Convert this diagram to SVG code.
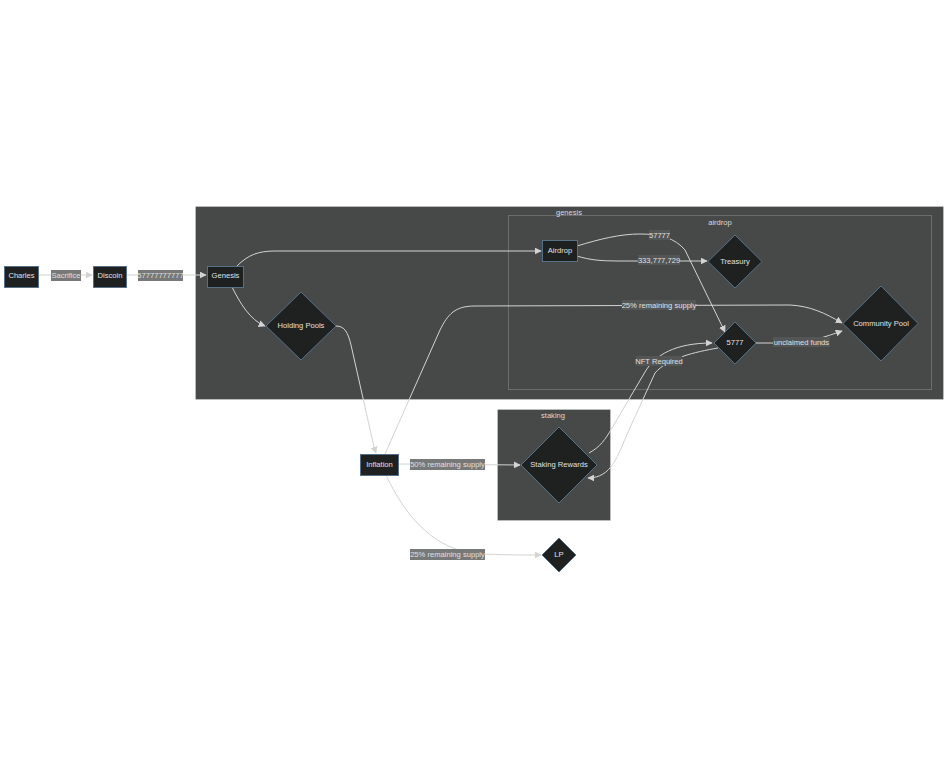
<svg xmlns="http://www.w3.org/2000/svg" width="948" height="779" viewBox="0 0 948 779">
<defs>
<style>
text{font-family:"Liberation Sans",Arial,sans-serif;font-size:7.6px;fill:#e0e0e0;text-anchor:middle;dominant-baseline:central}
.cl{fill:#474949;stroke:rgba(255,255,255,0.25);stroke-width:1}
.cli{fill:none;stroke:rgba(255,255,255,0.2);stroke-width:1}
.nd{fill:#1f2020;stroke:#56708a;stroke-width:1}
.e{fill:none;stroke:#d3d3d3;stroke-width:1}
.lo{fill:#777878}
.li{fill:#545656}
.ct{fill:#d8d8d8}
</style>
<marker id="ah" viewBox="0 0 10 10" refX="9" refY="5" markerWidth="7" markerHeight="7" markerUnits="userSpaceOnUse" orient="auto">
<path d="M0,0 L10,5 L0,10 z" fill="#d3d3d3"/>
</marker>
</defs>
<rect width="948" height="779" fill="#ffffff"/>
<g id="clusters">
<g id="cluster-genesis"><rect class="cl" x="195.5" y="206.5" width="748" height="193"/><text class="ct" x="569" y="212">genesis</text></g>
<g id="cluster-airdrop"><rect class="cli" x="508.5" y="215.5" width="423" height="174"/><text class="ct" x="720" y="222">airdrop</text></g>
<g id="cluster-staking"><rect class="cl" x="497.5" y="409.5" width="113" height="111"/><text class="ct" x="553" y="415">staking</text></g>
</g>
<g id="connectors">
<path class="e" d="M38,275 L92,275" marker-end="url(#ah)"/>
<path class="e" d="M126,275 L206,275" marker-end="url(#ah)"/>
<path class="e" d="M237,266 C248,255 258,251 275,251 L541,251" marker-end="url(#ah)"/>
<path class="e" d="M232,287 C240,303 250,320 265,326" marker-end="url(#ah)"/>
<path class="e" d="M336,326 C345,326 348,333 351,345 L374,447 L376,453" marker-end="url(#ah)"/>
<path class="e" d="M385,454 L440,330 C448,314 455,306 475,306 L790,305 C810,306 825,313 842,323" marker-end="url(#ah)"/>
<path class="e" d="M577,246 C600,239 620,234 640,234 C660,234 675,238 685,250 L725,332" marker-end="url(#ah)"/>
<path class="e" d="M577,256 C590,260 600,261 620,261 L707,261" marker-end="url(#ah)"/>
<path class="e" d="M756,343 L790,343 C810,342 825,337 842,331" marker-end="url(#ah)"/>
<path class="e" d="M589,453 C600,447 605,440 612,428 L645,372 C655,355 675,343 712,343" marker-end="url(#ah)"/>
<path class="e" d="M718,348 C695,352 668,358 655,373 L628,432 C618,455 612,478 588,478" marker-end="url(#ah)"/>
<path class="e" d="M398,464 L520,465" marker-end="url(#ah)"/>
<path class="e" d="M386,475 C405,515 430,545 470,553 C490,555 520,555 541,555" marker-end="url(#ah)"/>
</g>
<g id="edge-labels">
<rect class="lo" x="51" y="270" width="30" height="11"/><text x="66" y="275.5">Sacrifice</text>
<rect class="lo" x="138" y="270" width="45" height="11"/><text x="160.5" y="275.5">57777777777</text>
<rect class="li" x="649" y="230" width="21" height="10"/><text x="659.5" y="235">57777</text>
<rect class="li" x="638" y="255" width="42" height="10"/><text x="659" y="260">333,777,729</text>
<rect class="li" x="622" y="300" width="74" height="10"/><text x="659" y="305">25% remaining supply</text>
<rect class="li" x="773" y="337" width="57" height="10"/><text x="801.5" y="342">unclaimed funds</text>
<rect class="li" x="636" y="356" width="46" height="10"/><text x="659" y="361">NFT Required</text>
<rect class="lo" x="410" y="459" width="75" height="11"/><text x="447.5" y="464.5">50% remaining supply</text>
<rect class="lo" x="410" y="549" width="75" height="11"/><text x="447.5" y="554.5">25% remaining supply</text>
</g>
<g id="node-charles"><rect class="nd" x="4.5" y="266.5" width="34" height="21"/><text x="21.5" y="275.5">Charles</text></g>
<g id="node-discoin"><rect class="nd" x="93.5" y="266.5" width="33" height="21"/><text x="110" y="275.5">Discoin</text></g>
<g id="node-genesis"><rect class="nd" x="207.5" y="266.5" width="36" height="21"/><text x="225.5" y="275.5">Genesis</text></g>
<g id="node-airdrop"><rect class="nd" x="542.5" y="240.5" width="35" height="21"/><text x="560" y="250.5">Airdrop</text></g>
<g id="node-holding-pools"><polygon class="nd" points="301,292 336,326 301,360 266,326"/><text x="301" y="325.5">Holding Pools</text></g>
<g id="node-treasury"><polygon class="nd" points="735,235 762,261.5 735,288 708,261.5"/><text x="735" y="261">Treasury</text></g>
<g id="node-community-pool"><polygon class="nd" points="881,286 918,323.5 881,361 843,323.5"/><text x="881" y="323">Community Pool</text></g>
<g id="node-5777"><polygon class="nd" points="735,322 756,343 735,364 714,343"/><text x="735" y="342.5">5777</text></g>
<g id="node-inflation"><rect class="nd" x="360.5" y="454.5" width="38" height="21"/><text x="379.5" y="464.5">Inflation</text></g>
<g id="node-staking-rewards"><polygon class="nd" points="559,427 597,465 559,503 521,465"/><text x="559" y="464.5">Staking Rewards</text></g>
<g id="node-lp"><polygon class="nd" points="559,538 576,555 559,572 542,555"/><text x="559" y="554.5">LP</text></g>
</svg>
